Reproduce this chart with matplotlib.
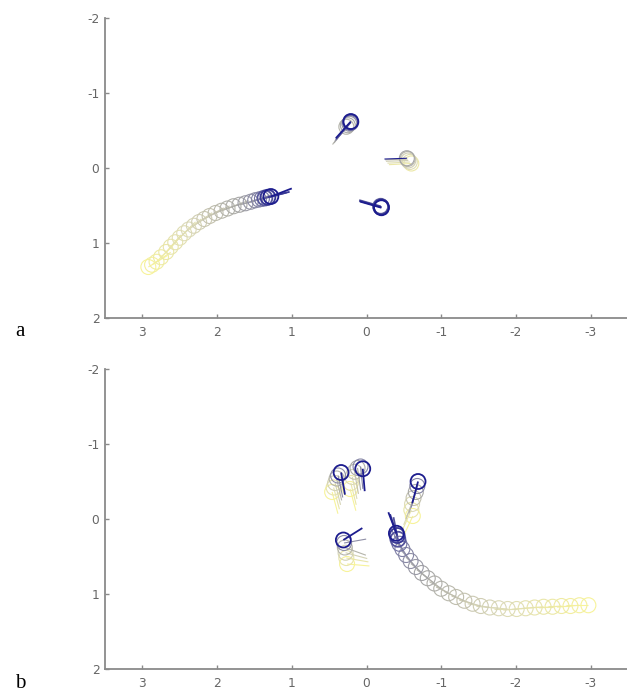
import numpy as np
import matplotlib
matplotlib.use("Agg")
import matplotlib.pyplot as plt
from matplotlib.patches import Circle
from matplotlib.colors import LinearSegmentedColormap

plt.rcParams["axes.unicode_minus"] = False

# ---------------- data ----------------
x_ticks = [3, 2, 1, 0, -1, -2, -3]
y_ticks = [-2, -1, 0, 1, 2]
panel_labels = ["a", "b"]

# panel a  (positions oldest -> newest; heading angles in degrees, None = direction of motion)
a1_x = [2.92, 2.87, 2.81, 2.75, 2.68, 2.62, 2.56, 2.50, 2.44, 2.38, 2.31, 2.24,
        2.17, 2.10, 2.02, 1.94, 1.86, 1.78, 1.70, 1.62, 1.55, 1.49, 1.44, 1.40,
        1.36, 1.32, 1.28]
a1_y = [1.32, 1.29, 1.25, 1.19, 1.12, 1.05, 0.99, 0.93, 0.87, 0.82, 0.77, 0.72,
        0.68, 0.64, 0.60, 0.57, 0.54, 0.51, 0.49, 0.47, 0.45, 0.43, 0.42, 0.41,
        0.40, 0.39, 0.38]
a1_h = [None] * 26 + [-159]

a2_x = [0.27, 0.25, 0.23, 0.22, 0.21, 0.21]
a2_y = [-0.55, -0.57, -0.59, -0.60, -0.61, -0.62]
a2_h = [52, 52, 50, 50, 49, 48]

a3_x = [-0.60, -0.58, -0.56, -0.55, -0.54]
a3_y = [-0.06, -0.08, -0.10, -0.12, -0.13]
a3_h = [3, 3, 2, 2, 2]

a4_x = [-0.19, -0.19, -0.20, -0.20]
a4_y = [0.51, 0.52, 0.52, 0.53]
a4_h = [-16, -16, -16, -16]

# panel b
b1_x = [0.46, 0.44, 0.42, 0.40, 0.38, 0.34]
b1_y = [-0.36, -0.42, -0.48, -0.54, -0.58, -0.62]
b1_h = [105, 105, 104, 103, 102, 100]

b2_x = [0.22, 0.21, 0.19, 0.16, 0.12, 0.08, 0.05]
b2_y = [-0.40, -0.48, -0.56, -0.63, -0.68, -0.70, -0.67]
b2_h = [105, 104, 102, 100, 98, 96, 95]

b3_x = [-0.62, -0.60, -0.61, -0.63, -0.66, -0.68, -0.69]
b3_y = [-0.04, -0.12, -0.20, -0.28, -0.36, -0.44, -0.50]
b3_h = [65, 66, 68, 70, 72, 74, 75]

b4_x = [0.26, 0.27, 0.28, 0.29, 0.30, 0.31]
b4_y = [0.60, 0.52, 0.45, 0.38, 0.32, 0.28]
b4_h = [175, 170, 165, 160, -170, -148]

b5_x = [-2.97, -2.85, -2.73, -2.61, -2.49, -2.37, -2.25, -2.13, -2.01, -1.89,
        -1.77, -1.65, -1.53, -1.42, -1.31, -1.20, -1.10, -1.00, -0.91, -0.82,
        -0.74, -0.66, -0.59, -0.53, -0.48, -0.44, -0.42, -0.41, -0.40]
b5_y = [1.15, 1.15, 1.16, 1.16, 1.17, 1.17, 1.18, 1.19, 1.20, 1.20,
        1.19, 1.18, 1.16, 1.13, 1.09, 1.04, 0.99, 0.93, 0.86, 0.79,
        0.72, 0.64, 0.56, 0.48, 0.40, 0.33, 0.27, 0.22, 0.19]
b5_h = [None] * 28 + [-69]

# ---------------- style ----------------
cmap = LinearSegmentedColormap.from_list(
    "trail",
    [(0.0, "#f7f39a"), (0.35, "#dcdab8"), (0.7, "#a6a6a6"),
     (0.88, "#7c7ca6"), (1.0, "#1c1c8e")])

R = 0.1
L = 0.3


def draw_agent(ax, xs, ys, hs, tmin=0.0, tmax=1.0, head_last_blue=False):
    n = len(xs)
    for i in range(n):
        f = i / (n - 1) if n > 1 else 1.0
        t = tmin + (tmax - tmin) * f
        c = cmap(t)
        lw = 0.8 if t < 0.9 else 1.3
        ax.add_patch(Circle((xs[i], ys[i]), R, fill=False, ec=c, lw=lw,
                            zorder=2 + t))
        h = hs[i]
        if h is None:
            j = min(i + 1, n - 1)
            k = j - 1
            ang = np.arctan2(ys[j] - ys[k], xs[j] - xs[k])
        else:
            ang = np.deg2rad(h)
        lc = cmap(1.0) if (head_last_blue and i == n - 1) else c
        ax.plot([xs[i], xs[i] + L * np.cos(ang)],
                [ys[i], ys[i] + L * np.sin(ang)],
                color=lc, lw=lw, zorder=2 + t, solid_capstyle="butt")


def style_axes(ax):
    ax.set_xlim(3.5, -3.5)
    ax.set_ylim(2, -2)
    ax.set_xticks(x_ticks)
    ax.set_xticklabels([str(v) for v in x_ticks])
    ax.set_yticks(y_ticks)
    ax.set_yticklabels([str(v) for v in y_ticks])
    for s in ("top", "right"):
        ax.spines[s].set_visible(False)
    for s in ("left", "bottom"):
        ax.spines[s].set_color("#8a8a8a")
        ax.spines[s].set_linewidth(1.3)
    ax.tick_params(direction="in", length=3, width=1, color="#8a8a8a",
                   labelsize=8.8, labelcolor="#666666")
    ax.tick_params(axis="x", pad=6)
    ax.tick_params(axis="y", pad=4)


fig = plt.figure(figsize=(6.27, 6.96), dpi=100)
axA = fig.add_axes([105 / 627, (696 - 318) / 696, 523 / 627, 300 / 696])
axB = fig.add_axes([105 / 627, (696 - 669) / 696, 523 / 627, 300 / 696])

for ax in (axA, axB):
    style_axes(ax)

draw_agent(axA, a1_x, a1_y, a1_h)
draw_agent(axA, a2_x, a2_y, a2_h, tmin=0.6)
draw_agent(axA, a3_x, a3_y, a3_h, tmin=0.15, tmax=0.7, head_last_blue=True)
draw_agent(axA, a4_x, a4_y, a4_h, tmin=0.9)

draw_agent(axB, b1_x, b1_y, b1_h)
draw_agent(axB, b2_x, b2_y, b2_h)
draw_agent(axB, b3_x, b3_y, b3_h)
draw_agent(axB, b4_x, b4_y, b4_h)
draw_agent(axB, b5_x, b5_y, b5_h)

fig.text(15 / 627, 1 - 331 / 696, panel_labels[0], family="Liberation Serif",
         fontsize=15, ha="left", va="center")
fig.text(15 / 627, 1 - 684 / 696, panel_labels[1], family="Liberation Serif",
         fontsize=15, ha="left", va="center")

fig.savefig("out.png", dpi=100)
